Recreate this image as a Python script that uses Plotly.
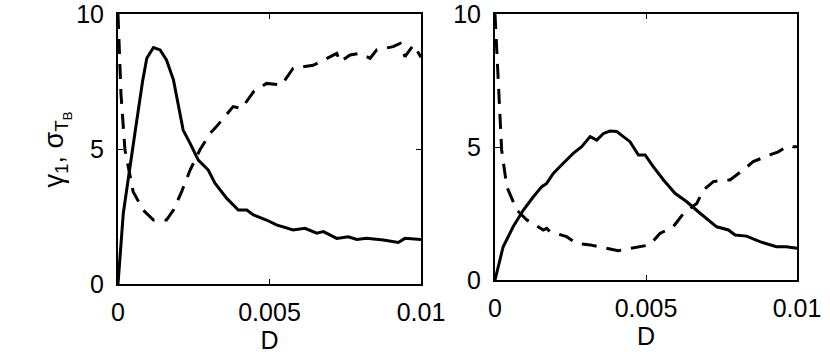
import plotly.graph_objects as go
from plotly.subplots import make_subplots

# left panel
d_solid_l = [0, 0.000176, 0.00056, 0.00081, 0.00095, 0.00117, 0.00139, 0.0016, 0.00183, 0.00199,
             0.00215, 0.00238, 0.00265, 0.00298, 0.0032, 0.00359, 0.00397, 0.00425, 0.00447, 0.0049,
             0.00523, 0.00578, 0.00617, 0.00656, 0.00678, 0.00722, 0.0076, 0.00788, 0.0082, 0.00876,
             0.00925, 0.00947, 0.01]
g_solid_l = [0, 2.63, 5.6, 7.5, 8.36, 8.76, 8.67, 8.3, 7.56, 6.69,
             5.7, 5.21, 4.59, 4.22, 3.73, 3.17, 2.74, 2.74, 2.56, 2.37,
             2.19, 2.0, 2.06, 1.88, 1.94, 1.69, 1.75, 1.65, 1.69, 1.63,
             1.54, 1.69, 1.65]
d_dash_l = [0, 0.00005, 0.0001, 0.00023, 0.0005, 0.00083, 0.00117, 0.0016, 0.00183, 0.0021,
            0.00238, 0.0027, 0.00304, 0.00325, 0.0038, 0.00408, 0.00447, 0.0049, 0.0054, 0.00578,
            0.00644, 0.00667, 0.00722, 0.00733, 0.00766, 0.00799, 0.00832, 0.00854, 0.00908, 0.00931,
            0.00947, 0.00975, 0.01]
s_dash_l = [10, 8.6, 7.0, 4.96, 3.42, 2.74, 2.37, 2.37, 2.74, 3.42,
            4.22, 4.96, 5.58, 5.83, 6.57, 6.5, 7.12, 7.43, 7.37, 7.99,
            8.1, 8.23, 8.54, 8.23, 8.48, 8.54, 8.36, 8.67, 8.79, 8.91,
            8.42, 8.85, 8.4]

# right panel
d_solid_r = [0, 0.00011, 0.00027, 0.0006, 0.00094, 0.00127, 0.00155, 0.00171, 0.00193, 0.00226,
             0.00259, 0.00287, 0.00315, 0.00337, 0.00359, 0.00381, 0.00403, 0.00425, 0.00447, 0.00475,
             0.00497, 0.00524, 0.00558, 0.00596, 0.00635, 0.00679, 0.00734, 0.00773, 0.00795, 0.00833,
             0.00877, 0.00932, 0.00965, 0.01]
g_solid_r = [0, 0.5, 1.25, 2.0, 2.63, 3.13, 3.51, 3.63, 4.01, 4.39,
             4.76, 5.01, 5.39, 5.26, 5.51, 5.6, 5.58, 5.39, 5.2, 4.7,
             4.7, 4.26, 3.76, 3.26, 2.94, 2.51, 2.0, 1.88, 1.69, 1.65,
             1.44, 1.25, 1.25, 1.19]
d_dash_r = [0, 0.00008, 0.00014, 0.00022, 0.00039, 0.00072, 0.00105, 0.00143, 0.0016, 0.00171,
            0.00182, 0.00237, 0.0027, 0.00315, 0.00348, 0.00408, 0.00447, 0.00513, 0.00546, 0.0059,
            0.00629, 0.00668, 0.0069, 0.00723, 0.00756, 0.00778, 0.00822, 0.00855, 0.0091, 0.00938,
            0.00965, 0.01]
s_dash_r = [10, 8.0, 6.27, 4.89, 3.51, 2.63, 2.26, 2.0, 1.88, 1.94,
            1.82, 1.63, 1.38, 1.32, 1.25, 1.1, 1.19, 1.32, 1.75, 2.0,
            2.57, 2.88, 3.38, 3.7, 3.76, 3.76, 4.14, 4.45, 4.7, 4.82,
            5.01, 5.01]

x_ticks = [0, 0.005, 0.01]
x_tick_text = ["0", "0.005", "0.01"]
y_ticks = [0, 5, 10]

fig = make_subplots(rows=1, cols=2)

line_solid = dict(color="black", width=3)
line_dash = dict(color="black", width=3, dash="15px,10px")

fig.add_trace(go.Scatter(x=d_solid_l, y=g_solid_l, mode="lines", line=line_solid), row=1, col=1)
fig.add_trace(go.Scatter(x=d_dash_l, y=s_dash_l, mode="lines", line=line_dash), row=1, col=1)
fig.add_trace(go.Scatter(x=d_solid_r, y=g_solid_r, mode="lines", line=line_solid), row=1, col=2)
fig.add_trace(go.Scatter(x=d_dash_r, y=s_dash_r, mode="lines", line=line_dash), row=1, col=2)

W, H = 830, 360
fig.update_layout(
    template="none",
    width=W, height=H,
    margin=dict(l=0, r=0, t=0, b=0, autoexpand=False),
    plot_bgcolor="white", paper_bgcolor="white",
    showlegend=False,
    font=dict(family="Liberation Sans, Arial, sans-serif", size=25, color="black"),
    xaxis=dict(domain=[118 / W, 421 / W]),
    xaxis2=dict(domain=[495 / W, 797 / W]),
    yaxis=dict(domain=[1 - 284 / H, 1 - 14 / H]),
    yaxis2=dict(domain=[1 - 280 / H, 1 - 14 / H]),
)

axis_style = dict(showline=True, linecolor="black", linewidth=2, mirror="ticks",
                  ticks="inside", ticklen=5, tickwidth=1, tickcolor="black",
                  showgrid=False, zeroline=False, automargin=False,
                  ticklabeloverflow="allow", tickfont=dict(size=25))
fig.update_xaxes(range=[0, 0.01], tickvals=x_ticks, ticktext=x_tick_text,
                 ticklabelstandoff=5,
                 title=dict(text="D", standoff=6, font=dict(size=25)), **axis_style)
fig.update_yaxes(range=[0, 10], tickvals=y_ticks, ticklabelstandoff=7, **axis_style)

fig.add_annotation(xref="paper", yref="paper", x=36 / W, y=1 - 150 / H,
                   text="γ<sub>1</sub>, σ<sub>T<sub>B</sub></sub>", textangle=-90,
                   showarrow=False, font=dict(size=27))

# page body has an 8px default margin; drop it so the figure sits at (0, 0)
fig.write_html("out.html", config={"displayModeBar": False},
               post_script="document.body.style.margin='0';")
